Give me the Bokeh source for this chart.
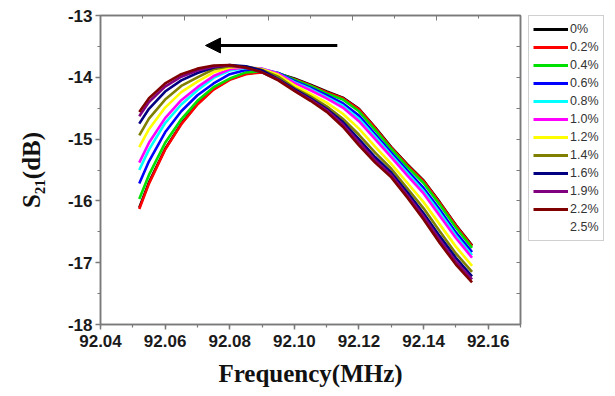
from bokeh.plotting import figure
from bokeh.layouts import row
from bokeh.models import (Range1d, LinearAxis, FixedTicker, Legend, LegendItem,
                          Arrow, NormalHead, ColumnDataSource)
from bokeh.embed import file_html
from bokeh.resources import INLINE

# ---------------- data ----------------
freq = [92.052, 92.055, 92.060, 92.065, 92.070, 92.075, 92.080, 92.085, 92.090, 92.095, 92.100,
        92.105, 92.110, 92.115, 92.120, 92.125, 92.130, 92.135, 92.140, 92.145, 92.150, 92.155]

s21_0_0 = [-16.11, -15.70, -15.16, -14.75, -14.43, -14.19, -14.03, -13.94, -13.91, -13.94, -14.02, -14.12, -14.23, -14.33, -14.51, -14.81, -15.13, -15.41, -15.67, -16.02, -16.39, -16.72]
s21_0_2 = [-16.13, -15.72, -15.17, -14.76, -14.44, -14.20, -14.04, -13.95, -13.92, -13.95, -14.03, -14.13, -14.24, -14.34, -14.52, -14.82, -15.14, -15.42, -15.68, -16.03, -16.40, -16.73]
s21_0_4 = [-15.97, -15.58, -15.06, -14.68, -14.38, -14.16, -14.02, -13.92, -13.90, -13.93, -14.04, -14.14, -14.26, -14.36, -14.55, -14.85, -15.16, -15.45, -15.71, -16.06, -16.43, -16.76]
s21_0_6 = [-15.72, -15.36, -14.89, -14.55, -14.29, -14.10, -13.95, -13.88, -13.87, -13.93, -14.06, -14.17, -14.29, -14.42, -14.62, -14.92, -15.22, -15.51, -15.79, -16.14, -16.51, -16.83]
s21_0_8 = [-15.50, -15.17, -14.74, -14.44, -14.21, -14.01, -13.89, -13.85, -13.86, -13.94, -14.08, -14.19, -14.32, -14.46, -14.67, -14.96, -15.26, -15.55, -15.84, -16.19, -16.56, -16.88]
s21_1_0 = [-15.38, -15.06, -14.66, -14.37, -14.16, -13.98, -13.87, -13.84, -13.86, -13.94, -14.09, -14.21, -14.34, -14.49, -14.71, -15.00, -15.29, -15.59, -15.88, -16.24, -16.60, -16.92]
s21_1_2 = [-15.13, -14.84, -14.49, -14.24, -14.07, -13.92, -13.84, -13.83, -13.87, -13.96, -14.13, -14.27, -14.41, -14.59, -14.83, -15.12, -15.40, -15.71, -16.02, -16.38, -16.74, -17.05]
s21_1_4 = [-14.94, -14.67, -14.36, -14.14, -14.00, -13.87, -13.82, -13.83, -13.88, -13.99, -14.17, -14.31, -14.47, -14.67, -14.93, -15.22, -15.48, -15.80, -16.12, -16.49, -16.85, -17.15]
s21_1_6 = [-14.75, -14.51, -14.23, -14.05, -13.93, -13.84, -13.80, -13.82, -13.89, -14.03, -14.19, -14.34, -14.51, -14.72, -15.00, -15.29, -15.54, -15.86, -16.20, -16.57, -16.92, -17.22]
s21_1_9 = [-14.63, -14.40, -14.15, -13.99, -13.89, -13.83, -13.81, -13.85, -13.92, -14.04, -14.21, -14.36, -14.53, -14.76, -15.05, -15.34, -15.58, -15.91, -16.25, -16.63, -16.98, -17.27]
s21_2_2 = [-14.56, -14.34, -14.10, -13.95, -13.86, -13.81, -13.80, -13.84, -13.92, -14.05, -14.22, -14.38, -14.56, -14.80, -15.10, -15.38, -15.62, -15.95, -16.30, -16.68, -17.03, -17.32]
s21_2_5 = [-14.50, -14.29, -14.06, -13.92, -13.84, -13.80, -13.81, -13.86, -13.95, -14.08, -14.25, -14.41, -14.60, -14.84, -15.13, -15.41, -15.66, -15.98, -16.33, -16.71, -17.06, -17.35]

strain_labels = ["0%", "0.2%", "0.4%", "0.6%", "0.8%", "1.0%", "1.2%", "1.4%", "1.6%", "1.9%", "2.2%", "2.5%"]
series = [s21_0_0, s21_0_2, s21_0_4, s21_0_6, s21_0_8, s21_1_0, s21_1_2, s21_1_4, s21_1_6, s21_1_9, s21_2_2, s21_2_5]
line_colors = ["#000000", "#ff0000", "#00e000", "#0000ff", "#00ffff", "#ff00ff", "#ffff00",
               "#808000", "#000080", "#800080", "#800000", "#ffffff"]

x_ticks = [92.04, 92.06, 92.08, 92.10, 92.12, 92.14, 92.16]
x_tick_labels = ["92.04", "92.06", "92.08", "92.10", "92.12", "92.14", "92.16"]
y_ticks = [-18, -17, -16, -15, -14, -13]
y_tick_labels = ["-18", "-17", "-16", "-15", "-14", "-13"]

x_min, x_max = 92.04, 92.17
y_min, y_max = -18.0, -13.0

# arrow annotation (shift direction)
arrow_x_tail, arrow_x_head, arrow_y = 92.1133, 92.0725, -13.485

# ---------------- main figure ----------------
W_MAIN, W_LEG, H = 528, 87, 396
LEFT, RIGHT, TOP, BOTTOM = 100, 8, 15, 72

p = figure(width=W_MAIN, height=H, output_backend="svg", toolbar_location=None,
           x_range=Range1d(x_min, x_max), y_range=Range1d(y_min, y_max),
           min_border_left=LEFT, min_border_right=RIGHT, min_border_top=TOP,
           min_border_bottom=BOTTOM, background_fill_color="white",
           border_fill_color="white")
p.grid.visible = False
p.outline_line_color = "#7a7a7a"
p.outline_line_width = 1.5

axis_col = "#7a7a7a"
tick_font = "Liberation Sans"

xa = p.xaxis[0]
xa.ticker = FixedTicker(ticks=x_ticks, minor_ticks=[round(92.04 + 0.01 * i, 2) for i in range(14)])
xa.major_label_overrides = dict(zip(x_ticks, x_tick_labels))
xa.axis_label = "Frequency(MHz)"
ya = p.yaxis[0]
ya.ticker = FixedTicker(ticks=y_ticks, minor_ticks=[y_min + 0.5 * i for i in range(11)])
ya.major_label_overrides = dict(zip(y_ticks, y_tick_labels))
ya.axis_label = "S\u2082\u2081(dB)"

for ax in (xa, ya):
    ax.axis_line_color = axis_col
    ax.axis_line_width = 1.5
    ax.major_tick_line_color = axis_col
    ax.minor_tick_line_color = axis_col
    ax.major_tick_line_width = 1.5
    ax.minor_tick_line_width = 1.2
    ax.major_tick_out = 5
    ax.major_tick_in = 0
    ax.minor_tick_out = 3
    ax.minor_tick_in = 0
    ax.major_label_text_font = tick_font
    ax.major_label_text_font_style = "bold"
    ax.major_label_text_font_size = "17px"
    ax.major_label_text_color = "#1a1a1a"
    ax.axis_label_text_font = "Liberation Serif"
    ax.axis_label_text_font_style = "bold"
    ax.axis_label_text_font_size = "25px"
    ax.axis_label_text_color = "#111111"
xa.major_label_standoff = 5
xa.axis_label_standoff = 10
ya.major_label_standoff = 3
ya.axis_label_standoff = 20

# mirror axes (top and right) with inward ticks, no labels
top_major = [x_min + (x_max - x_min) * k / 5 for k in range(6)]
top_minor = [x_min + (x_max - x_min) * k / 10 for k in range(11)]
top = LinearAxis(ticker=FixedTicker(ticks=top_major, minor_ticks=top_minor),
                 major_label_overrides={t: "" for t in top_major},
                 axis_line_color=axis_col,
                 axis_line_width=1.5, major_tick_line_color=axis_col,
                 minor_tick_line_color=axis_col, major_tick_in=5, major_tick_out=0,
                 minor_tick_in=3, minor_tick_out=0, major_label_standoff=0)
right_ticks = [y_min + 0.5 * i for i in range(11)]
right = LinearAxis(ticker=FixedTicker(ticks=right_ticks, minor_ticks=[]),
                   major_label_overrides={t: "" for t in right_ticks},
                   axis_line_color=axis_col,
                   axis_line_width=1.5, major_tick_line_color=axis_col,
                   major_tick_in=4, major_tick_out=0, major_label_standoff=0)
p.add_layout(top, "above")
p.add_layout(right, "right")

# ---------------- curves ----------------
order = [11] + list(range(11))
for i in order:
    src = ColumnDataSource(dict(x=freq, y=series[i]))
    p.line("x", "y", source=src, line_color=line_colors[i], line_width=2.6)

# ---------------- arrow ----------------
p.add_layout(Arrow(end=NormalHead(size=15, fill_color="black", line_color="black"),
                   x_start=arrow_x_tail, y_start=arrow_y, x_end=arrow_x_head, y_end=arrow_y,
                   line_color="black", line_width=3))

# ---------------- legend panel (separate figure at the right) ----------------
q = figure(width=W_LEG, height=H, output_backend="svg", toolbar_location=None,
           x_range=Range1d(0, 1), y_range=Range1d(0, 1),
           x_axis_location=None, y_axis_location=None,
           min_border_left=0, min_border_right=0, min_border_top=TOP, min_border_bottom=0,
           background_fill_color="white", border_fill_color="white")
q.grid.visible = False
q.outline_line_color = None
nan = float("nan")
items = []
for i in range(12):
    # legend-only renderer: a single undefined point draws nothing in the panel
    r = q.line(x=[nan, nan], y=[nan, nan], line_color=line_colors[i], line_width=3)
    items.append(LegendItem(label=strain_labels[i], renderers=[r]))
legend = Legend(items=items, location="top_left", padding=4, spacing=0,
                margin=0, glyph_width=35, glyph_height=18, label_height=18,
                label_standoff=2, label_text_font="Liberation Sans",
                label_text_font_size="12.5px", label_text_color="#333333",
                border_line_color="#a0a0a0", border_line_width=1,
                background_fill_color="white", background_fill_alpha=1.0)
q.add_layout(legend, "center")

layout = row(p, q, spacing=0)
open("out.html", "w").write(file_html(layout, INLINE))
